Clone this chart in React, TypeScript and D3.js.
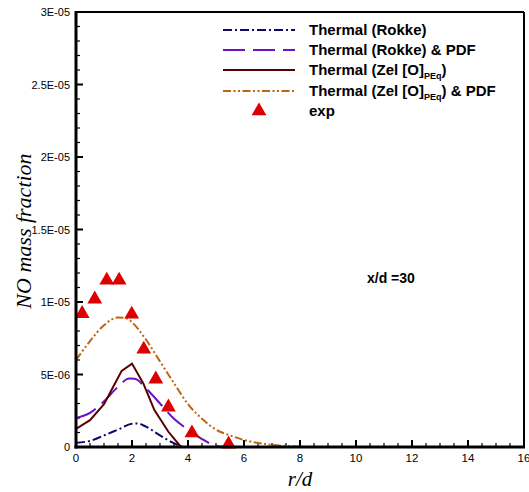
import React from 'react';
import * as d3 from 'd3';

// ---- data ----
const rokkeR = [0, 0.5, 1.0, 1.5, 2.0, 2.2, 2.5, 3.0, 3.4, 3.8];
const rokkeV = [0.3e-6, 0.42e-6, 0.8e-6, 1.2e-6, 1.6e-6, 1.62e-6, 1.4e-6, 0.8e-6, 0.35e-6, 0];

const rokkePdfR = [0, 0.5, 1.0, 1.5, 1.9, 2.1, 2.5, 3.0, 3.5, 4.0, 4.5, 5.0, 5.3];
const rokkePdfV = [2.0e-6, 2.35e-6, 3.15e-6, 4.15e-6, 4.72e-6, 4.7e-6, 4.05e-6, 3.0e-6, 1.95e-6, 1.2e-6, 0.55e-6, 0.08e-6, 0];

const zelR = [0, 0.5, 1.0, 1.33, 1.63, 2.0, 2.4, 2.8, 3.3, 3.75];
const zelV = [1.25e-6, 1.85e-6, 2.95e-6, 4.15e-6, 5.25e-6, 5.75e-6, 4.4e-6, 2.55e-6, 1.05e-6, 0];

const zelPdfR = [0, 0.5, 1.0, 1.5, 1.8, 2.0, 2.5, 3.0, 3.5, 4.0, 4.5, 5.0, 5.5, 6.0, 6.5, 7.0, 7.5, 8.0, 8.5];
const zelPdfV = [6.0e-6, 7.3e-6, 8.4e-6, 8.93e-6, 8.88e-6, 8.6e-6, 7.4e-6, 5.9e-6, 4.4e-6, 2.95e-6, 1.95e-6, 1.2e-6, 0.8e-6, 0.48e-6, 0.28e-6, 0.15e-6, 0.07e-6, 0.02e-6, 0];

const expR = [0.22, 0.67, 1.1, 1.54, 1.99, 2.42, 2.85, 3.3, 4.14, 5.45];
const expV = [9.2e-6, 10.2e-6, 11.5e-6, 11.5e-6, 9.15e-6, 6.74e-6, 4.68e-6, 2.75e-6, 0.96e-6, 0.2e-6];

const xTickValues = [0, 2, 4, 6, 8, 10, 12, 14, 16];
const xTickLabels = ['0', '2', '4', '6', '8', '10', '12', '14', '16'];
const yTickValues = [0, 5e-6, 1e-5, 1.5e-5, 2e-5, 2.5e-5, 3e-5];
const yTickLabels = ['0', '5E-06', '1E-05', '1.5E-05', '2E-05', '2.5E-05', '3E-05'];

const W = 529, H = 492;
const L = 76, R = 524, T = 12, B = 447;

const x = d3.scaleLinear().domain([0, 16]).range([L, R]);
const y = d3.scaleLinear().domain([0, 3e-5]).range([B, T]);

const zip = (rs: number[], vs: number[]) => rs.map((r, i) => [r, vs[i]] as [number, number]);
const lineLin = d3.line<[number, number]>().x(d => x(d[0])).y(d => y(d[1]));
const lineSmooth = d3.line<[number, number]>().x(d => x(d[0])).y(d => y(d[1])).curve(d3.curveMonotoneX);

const series = [
  { key: 'rokke', data: zip(rokkeR, rokkeV), color: '#0a0a6a', dash: '9,3,2,3', gen: lineSmooth },
  { key: 'rokkePdf', data: zip(rokkePdfR, rokkePdfV), color: '#6a0fcc', dash: '22,8', gen: lineSmooth },
  { key: 'zel', data: zip(zelR, zelV), color: '#5a0000', dash: '', gen: lineLin },
  { key: 'zelPdf', data: zip(zelPdfR, zelPdfV), color: '#bb6612', dash: '8,2.5,2,2.5,2,2.5', gen: lineSmooth },
];

const tri = d3.symbol().type(d3.symbolTriangle).size(95);

export default function App() {
  const xMinor = d3.range(0, 16.001, 0.5);
  const yMinor = d3.range(0, 3.0001e-5, 1e-6);
  const legendY = [30, 50, 70, 91, 111];
  const lx1 = 223, lx2 = 295, tx = 309;
  const lf = { fontFamily: 'Liberation Sans, Arial, sans-serif', fontWeight: 700, fontSize: 15 } as const;
  return (
    <svg width={W} height={H} style={{ position: 'absolute', left: 0, top: 0, background: '#fff' }}>
      <rect x={0} y={0} width={W} height={H} fill="#fff" />
      <defs>
        <clipPath id="plot"><rect x={L} y={T} width={R - L} height={B - T} /></clipPath>
      </defs>
      {/* frame */}
      <line x1={L} x2={R} y1={T} y2={T} stroke="#000" strokeWidth={2} />
      <line x1={R} x2={R} y1={T} y2={B} stroke="#000" strokeWidth={2} />
      {/* minor ticks */}
      {xMinor.map((v, i) => (
        <line key={'xm' + i} x1={x(v)} x2={x(v)} y1={B} y2={B - (v % 2 === 0 ? 7 : 4)} stroke="#000" strokeWidth={v % 2 === 0 ? 2 : 1.2} />
      ))}
      {yMinor.map((v, i) => (
        <line key={'ym' + i} x1={L} x2={L + (i % 5 === 0 ? 7 : 4)} y1={y(v)} y2={y(v)} stroke="#000" strokeWidth={i % 5 === 0 ? 2 : 1.2} />
      ))}
      {/* curves */}
      <g clipPath="url(#plot)">
        {series.map(s => (
          <path key={s.key} d={s.gen(s.data) || ''} fill="none" stroke={s.color} strokeWidth={2} strokeDasharray={s.dash || undefined} />
        ))}
      </g>
      {expR.map((r, i) => (
        <path key={'e' + i} d={tri() || ''} transform={`translate(${x(r)},${y(expV[i])})`} fill="#dd0000" />
      ))}
      {/* axes lines */}
      <line x1={L} x2={L} y1={T - 1} y2={B + 1.5} stroke="#000" strokeWidth={3} />
      <line x1={L - 1.5} x2={R + 1} y1={B} y2={B} stroke="#000" strokeWidth={3} />
      {/* tick labels */}
      {xTickValues.map((v, i) => (
        <text key={'xl' + i} x={x(v)} y={462} textAnchor="middle" fontFamily="Liberation Sans, Arial, sans-serif" fontSize={11.5} fill="#000">{xTickLabels[i]}</text>
      ))}
      {yTickValues.map((v, i) => (
        <text key={'yl' + i} x={70} y={y(v) + 4} textAnchor="end" fontFamily="Liberation Sans, Arial, sans-serif" fontSize={11} fill="#000">{yTickLabels[i]}</text>
      ))}
      {/* axis titles */}
      <text x={300} y={486} textAnchor="middle" fontFamily="Liberation Serif, Times New Roman, serif" fontStyle="italic" fontSize={21} fill="#000">r/d</text>
      <text transform={`translate(31,231) rotate(-90)`} textAnchor="middle" fontFamily="Liberation Serif, Times New Roman, serif" fontStyle="italic" fontSize={22} fill="#000">NO mass fraction</text>
      {/* annotation */}
      <text x={367} y={283} fontFamily="Liberation Sans, Arial, sans-serif" fontWeight={700} fontSize={14} fill="#000">x/d =30</text>
      {/* legend */}
      {series.map((s, i) => (
        <line key={'lg' + i} x1={lx1} x2={lx2} y1={legendY[i]} y2={legendY[i]} stroke={s.color} strokeWidth={2.2} strokeDasharray={s.dash || undefined} />
      ))}
      <path d={tri() || ''} transform={`translate(259,${legendY[4]})`} fill="#dd0000" />
      <text x={tx} y={legendY[0] + 5} {...lf}>Thermal (Rokke)</text>
      <text x={tx} y={legendY[1] + 5} {...lf}>Thermal (Rokke) &amp; PDF</text>
      <text x={tx} y={legendY[2] + 5} {...lf}>Thermal (Zel [O]<tspan fontSize={9} dy={4}>PEq</tspan><tspan dy={-4}>)</tspan></text>
      <text x={tx} y={legendY[3] + 5} {...lf}>Thermal (Zel [O]<tspan fontSize={9} dy={4}>PEq</tspan><tspan dy={-4}>) &amp; PDF</tspan></text>
      <text x={tx} y={legendY[4] + 5} {...lf}>exp</text>
    </svg>
  );
}
